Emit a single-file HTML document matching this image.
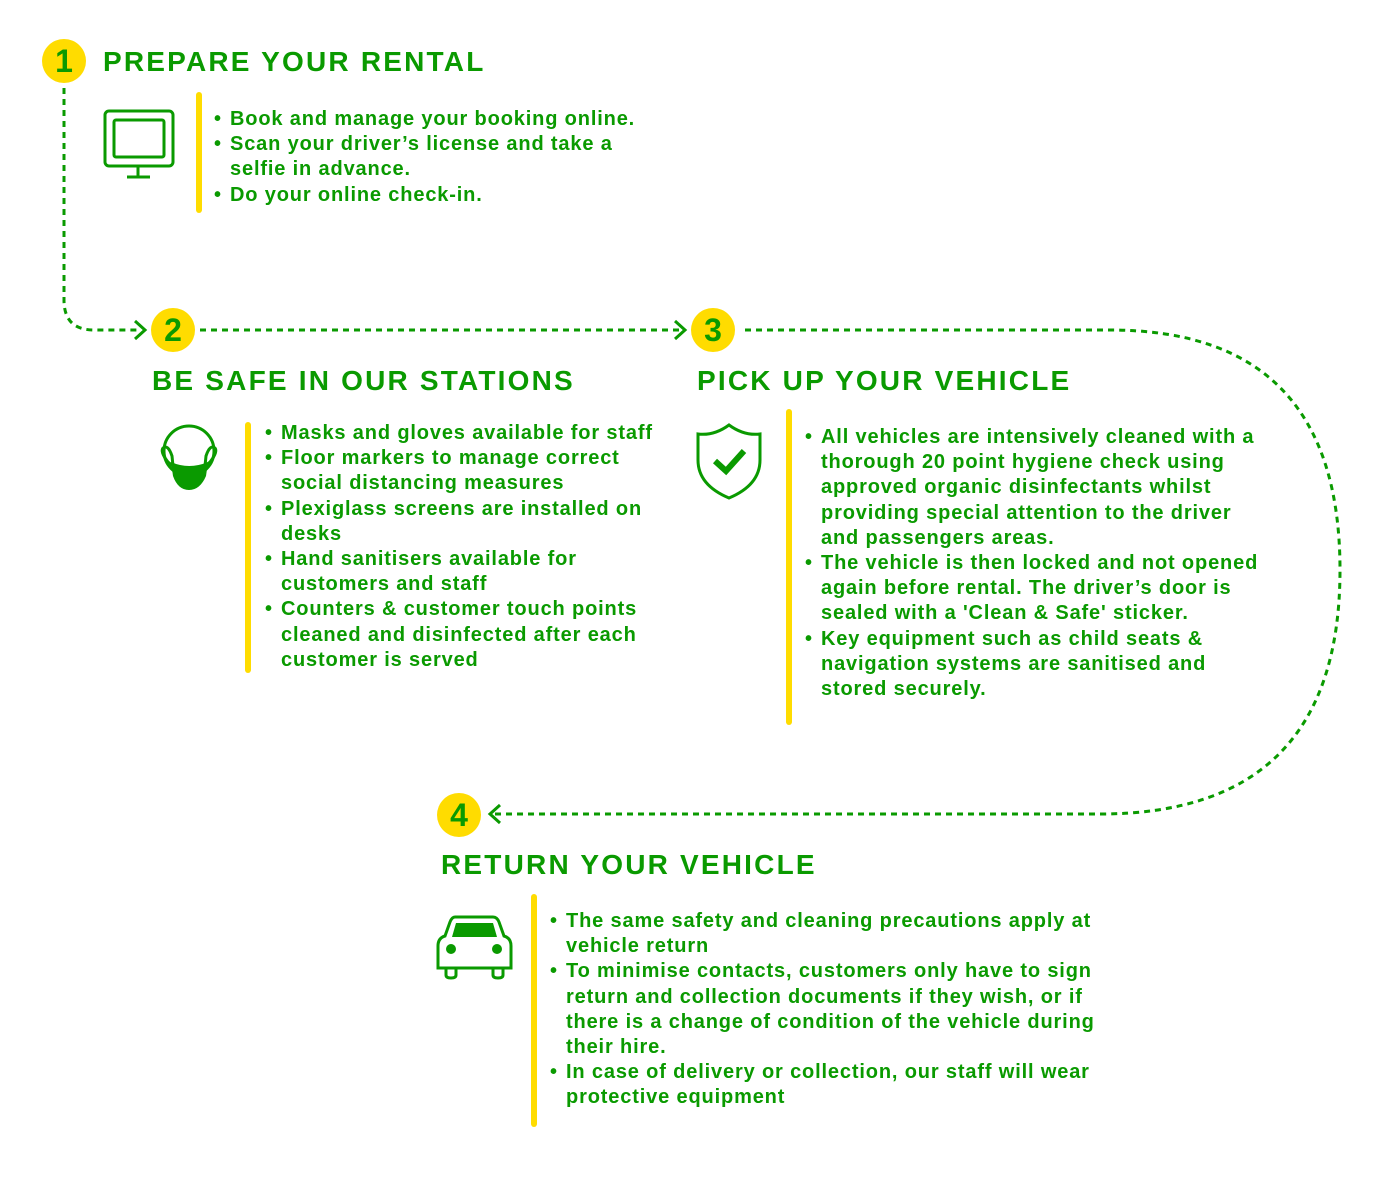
<!DOCTYPE html>
<html><head><meta charset="utf-8"><style>
body{margin:0;width:1387px;height:1181px;background:#fff;position:relative;overflow:hidden;font-family:"Liberation Sans",sans-serif;color:#0a9a00}
.h{position:absolute;font-size:28px;font-weight:bold;letter-spacing:2.2px;white-space:nowrap;line-height:34px}
.t{position:absolute;font-size:20px;font-weight:bold;line-height:25.2px;white-space:nowrap;letter-spacing:0.85px}
.t div{padding-left:16px;position:relative}
.t div::before{content:"•";position:absolute;left:0;top:0}
.n{position:absolute;width:44px;height:44px;border-radius:50%;background:#ffdc00;font-size:32px;font-weight:bold;text-align:center;line-height:44px;color:#0a9a00}
svg{position:absolute;left:0;top:0}
</style></head><body>
<svg width="1387" height="1181">
<g fill="none" stroke="#0a9a00" stroke-width="3" stroke-dasharray="6,5">
<path d="M64 88 V300 Q64 330 94 330 H140"/>
<path d="M200 330 H680"/>
<path d="M745 330 H1110 Q1340 330 1340 570 Q1340 814 1100 814 H495"/>
</g>
<g fill="none" stroke="#0a9a00" stroke-width="3">
<path d="M135 321 L145 330 L135 339"/>
<path d="M675 321 L685 330 L675 339"/>
<path d="M500 805 L490 814 L500 823"/>
</g>
<g stroke="#ffdc00" stroke-width="6" stroke-linecap="round">
<line x1="199" y1="95" x2="199" y2="210"/>
<line x1="248" y1="425" x2="248" y2="670"/>
<line x1="789" y1="412" x2="789" y2="722"/>
<line x1="534" y1="897" x2="534" y2="1124"/>
</g>
<g fill="none" stroke="#0a9a00" stroke-width="3">
<rect x="105" y="111" width="68" height="55" rx="4"/>
<rect x="114" y="120" width="50" height="37" rx="2"/>
<line x1="138" y1="166" x2="138" y2="177"/><line x1="127" y1="177" x2="150" y2="177"/>
</g>
<g>
<circle cx="189" cy="451" r="25" fill="none" stroke="#0a9a00" stroke-width="3"/>
<path d="M168 462 Q160 452 163 448 Q168 444 172 456 L173 466 Z" fill="none" stroke="#0a9a00" stroke-width="3"/>
<path d="M210 462 Q218 452 215 448 Q210 444 206 456 L205 466 Z" fill="none" stroke="#0a9a00" stroke-width="3"/>
<path d="M171 462 Q189 470 208 462 L206 476 Q200 490 189 490 Q178 490 173 476 Z" fill="#0a9a00"/>
</g>
<path d="M729 425 Q714 436 698 434 V460 Q698 485 729 498 Q760 485 760 460 V434 Q744 436 729 425 Z" fill="none" stroke="#0a9a00" stroke-width="3"/>
<path d="M715 461 L726 471 L744 451" fill="none" stroke="#0a9a00" stroke-width="6"/>
<g>
<path d="M455 917 H493 Q497 917 499 922 L504 936 Q511 938 511 946 V968 H438 V946 Q438 938 445 936 L450 922 Q452 917 455 917 Z" fill="none" stroke="#0a9a00" stroke-width="3"/>
<path d="M456 923 H493 L497 937 H452 Z" fill="#0a9a00"/>
<circle cx="451" cy="949" r="5" fill="#0a9a00"/><circle cx="497" cy="949" r="5" fill="#0a9a00"/>
<path d="M446 968 V975 Q446 978 451 978 Q456 978 456 975 V968 M493 968 V975 Q493 978 498 978 Q503 978 503 975 V968" fill="none" stroke="#0a9a00" stroke-width="3"/>
</g>
</svg>
<div class="n" style="left:42px;top:39px">1</div>
<div class="n" style="left:151px;top:308px">2</div>
<div class="n" style="left:691px;top:308px">3</div>
<div class="n" style="left:437px;top:793px">4</div>
<div class="h" style="left:103px;top:45px">PREPARE YOUR RENTAL</div>
<div class="h" style="left:152px;top:364px">BE SAFE IN OUR STATIONS</div>
<div class="h" style="left:697px;top:364px">PICK UP YOUR VEHICLE</div>
<div class="h" style="left:441px;top:848px">RETURN YOUR VEHICLE</div>
<div class="t" style="left:214px;top:107px">
<div>Book and manage your booking online.</div>
<div>Scan your driver’s license and take a<br>selfie in advance.</div>
<div>Do your online check-in.</div></div>
<div class="t" style="left:265px;top:421px">
<div>Masks and gloves available for staff</div>
<div>Floor markers to manage correct<br>social distancing measures</div>
<div>Plexiglass screens are installed on<br>desks</div>
<div>Hand sanitisers available for<br>customers and staff</div>
<div>Counters &amp; customer touch points<br>cleaned and disinfected after each<br>customer is served</div></div>
<div class="t" style="left:805px;top:425px">
<div>All vehicles are intensively cleaned with a<br>thorough 20 point hygiene check using<br>approved organic disinfectants whilst<br>providing special attention to the driver<br>and passengers areas.</div>
<div>The vehicle is then locked and not opened<br>again before rental. The driver’s door is<br>sealed with a 'Clean &amp; Safe' sticker.</div>
<div>Key equipment such as child seats &amp;<br>navigation systems are sanitised and<br>stored securely.</div></div>
<div class="t" style="left:550px;top:909px">
<div>The same safety and cleaning precautions apply at<br>vehicle return</div>
<div>To minimise contacts, customers only have to sign<br>return and collection documents if they wish, or if<br>there is a change of condition of the vehicle during<br>their hire.</div>
<div>In case of delivery or collection, our staff will wear<br>protective equipment</div></div>
</body></html>
